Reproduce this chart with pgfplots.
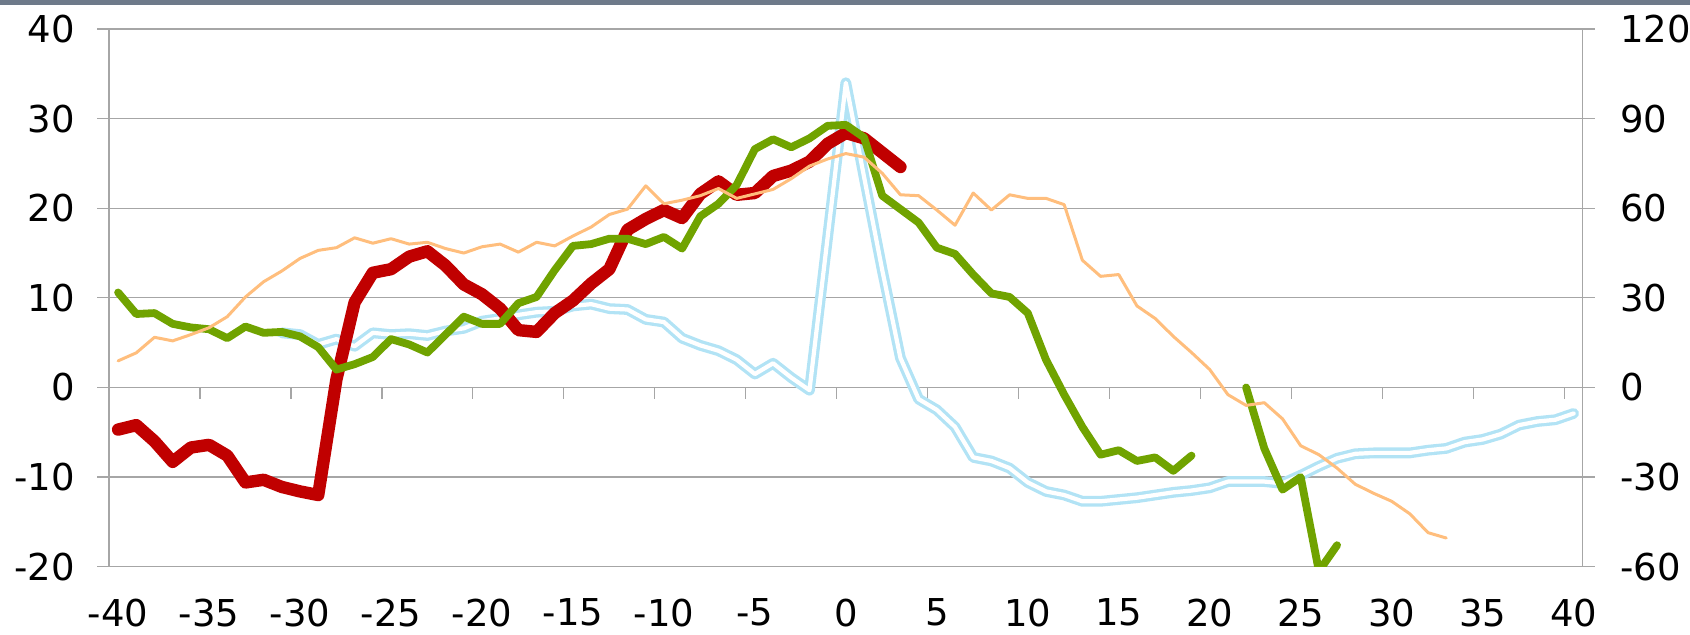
\documentclass[border=0pt]{standalone}
\usepackage{fontspec}
\setmainfont{DejaVu Sans}
\usepackage{pgfplots}
\usepackage{pgfplotstable}
\pgfplotsset{compat=1.18}
\definecolor{gridgray}{RGB}{166,166,166}
\definecolor{topbar}{RGB}{110,122,138}
\definecolor{cred}{RGB}{192,0,0}
\definecolor{cgreen}{RGB}{112,163,0}
\definecolor{corange}{RGB}{255,190,125}
\definecolor{cblue}{RGB}{178,227,245}

\pgfplotstableread{
x y
-40 -4.7
-39 -4.2
-38 -6.0
-37 -8.3
-36 -6.7
-35 -6.4
-34 -7.6
-33 -10.6
-32 -10.3
-31 -11.1
-30 -11.6
-29 -12.0
-28 0.9
-27 9.5
-26 12.8
-25 13.2
-24 14.6
-23 15.2
-22 13.6
-21 11.5
-20 10.4
-19 8.8
-18 6.4
-17 6.2
-16 8.3
-15 9.7
-14 11.6
-13 13.2
-12 17.6
-11 18.8
-10 19.8
-9 18.9
-8 21.6
-7 23.0
-6 21.5
-5 21.7
-4 23.6
-3 24.2
-2 25.2
-1 27.2
0 28.4
1 27.8
2 26.2
3 24.6
}\redtab

\pgfplotstableread{
x y
-40 10.6
-39 8.2
-38 8.3
-37 7.1
-36 6.7
-35 6.5
-34 5.5
-33 6.8
-32 6.1
-31 6.2
-30 5.7
-29 4.5
-28 2.0
-27 2.6
-26 3.4
-25 5.4
-24 4.8
-23 3.9
-22 5.9
-21 7.9
-20 7.1
-19 7.1
-18 9.4
-17 10.1
-16 13.1
-15 15.8
-14 16.0
-13 16.6
-12 16.6
-11 16.0
-10 16.8
-9 15.5
-8 19.1
-7 20.5
-6 22.6
-5 26.6
-4 27.7
-3 26.8
-2 27.8
-1 29.2
0 29.3
1 27.9
2 21.4
3 19.9
4 18.4
5 15.6
6 14.9
7 12.6
8 10.5
9 10.1
10 8.3
11 3.1
12 -0.8
13 -4.4
14 -7.5
15 -7.0
16 -8.2
17 -7.8
18 -9.3
19 -7.6
}\greenAtab

\pgfplotstableread{
x y
22 0.0
23 -6.8
24 -11.4
25 -10.0
26 -20.5
27 -17.6
}\greenBtab

\pgfplotstableread{
x y
-31 6.1
-30 5.9
-29 4.8
-28 5.4
-27 4.6
-26 6.1
-25 5.9
-24 6.0
-23 5.8
-22 6.3
-21 6.6
-20 7.4
-19 7.7
-18 8.1
-17 8.4
-16 8.5
-15 9.1
-14 9.3
-13 8.8
-12 8.7
-11 7.6
-10 7.3
-9 5.5
-8 4.7
-7 4.1
-6 3.1
-5 1.5
-4 2.7
-3 1.1
-2 -0.3
-1 16.8
0 34.0
1 23.5
2 13.1
3 3.3
4 -1.3
5 -2.5
6 -4.4
7 -7.8
8 -8.2
9 -9.0
10 -10.6
11 -11.6
12 -12.0
13 -12.7
14 -12.7
15 -12.5
16 -12.3
17 -12.0
18 -11.7
19 -11.5
20 -11.2
21 -10.5
22 -10.5
23 -10.5
24 -10.7
25 -9.8
26 -8.8
27 -7.9
28 -7.4
29 -7.3
30 -7.3
31 -7.3
32 -7.0
33 -6.8
34 -6.1
35 -5.8
36 -5.2
37 -4.2
38 -3.8
39 -3.6
40 -2.9
}\bluetab

\pgfplotstableread{
x y
-40 8.9
-39 11.6
-38 16.8
-37 15.6
-36 17.7
-35 20.0
-34 23.7
-33 30.3
-32 35.4
-31 39.0
-30 43.2
-29 45.9
-28 46.8
-27 50.1
-26 48.3
-25 49.8
-24 48.0
-23 48.6
-22 46.5
-21 45.0
-20 47.1
-19 48.0
-18 45.3
-17 48.6
-16 47.4
-15 50.7
-14 53.7
-13 57.9
-12 59.7
-11 67.5
-10 61.5
-9 62.7
-8 64.2
-7 66.6
-6 63.3
-5 64.8
-4 66.3
-3 69.9
-2 74.1
-1 76.5
0 78.3
1 77.1
2 71.7
3 64.5
4 64.2
5 59.4
6 54.3
7 65.1
8 59.4
9 64.5
10 63.3
11 63.3
12 61.2
13 42.6
14 37.2
15 37.8
16 27.3
17 23.1
18 17.1
19 11.7
20 6.0
21 -2.4
22 -6.0
23 -5.1
24 -10.5
25 -19.5
26 -22.5
27 -27.0
28 -32.4
29 -35.4
30 -38.1
31 -42.3
32 -48.6
33 -50.4
}\orangetab

\pgfplotsset{base/.style={
  scale only axis, width=736.85pt, height=268.85pt,
  at={(54.5pt,33.65pt)}, anchor=south west,
  xmin=-40.5, xmax=40.5,
  tick align=outside, major tick length=6pt,
  tick label style={font=\fontsize{18.5}{22}\selectfont, text=black},
}}

\begin{document}
\begin{tikzpicture}
\useasboundingbox (0,0) rectangle (845pt,317pt);
\fill[topbar] (0,314.5pt) rectangle (845pt,317pt);
\begin{axis}[base,
  ymin=-20, ymax=40,
  separate axis lines,
  x axis line style={draw=none},
  y axis line style={gridgray, line width=0.6pt},
  ytick={-20,-10,...,40},
  yticklabels={-20,-10,0,10,20,30,40},
  ytick pos=left,
  y tick style={gridgray, line width=0.6pt},
  ymajorgrids,
  grid style={gridgray, line width=0.6pt},
  xtick={-40,-35,...,40},
  xticklabels={-40,-35,-30,-25,-20,-15,-10,-5,0,5,10,15,20,25,30,35,40},
  xtick pos=bottom,
  x tick style={draw=none},
  yticklabel style={anchor=east, inner sep=0pt, xshift=-11pt},
  xticklabel style={anchor=north, inner sep=0pt, yshift=-9.9pt},
]
\pgfplotsinvokeforeach{-40.5,-35.5,...,39.5}{
  \draw[gridgray, line width=0.6pt] (axis cs:#1,0) -- ++(0pt,-6pt);
}
\addplot[cblue, line width=5.4pt, line join=round, line cap=round] table {\bluetab};
\addplot[white, line width=2.1pt, line join=round, line cap=round] table {\bluetab};
\addplot[cred, line width=6.2pt, line join=round, line cap=round] table {\redtab};
\addplot[cgreen, line width=3.9pt, line join=round, line cap=round] table {\greenAtab};
\addplot[cgreen, line width=3.9pt, line join=round, line cap=round] table {\greenBtab};
\end{axis}
\begin{axis}[base,
  ymin=-60, ymax=120,
  axis line style={draw=none},
  ytick={-60,-30,...,120},
  yticklabels={-60,-30,0,30,60,90,120},
  ytick pos=right,
  y tick style={gridgray, line width=0.6pt},
  xtick=\empty,
  yticklabel style={anchor=west, inner sep=0pt, xshift=12.5pt},
]
\addplot[corange, line width=1.5pt, line join=round, line cap=round] table {\orangetab};
\end{axis}
\end{tikzpicture}
\end{document}
